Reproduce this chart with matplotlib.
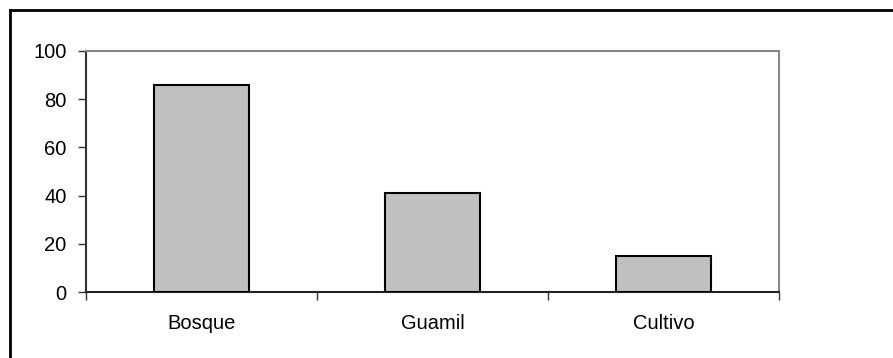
import matplotlib.pyplot as plt
from matplotlib.lines import Line2D

categories = ["Bosque", "Guamil", "Cultivo"]
values = [86, 41, 15]
yticks = [0, 20, 40, 60, 80, 100]

plt.rcParams['font.family'] = ['Liberation Sans', 'DejaVu Sans']

fig = plt.figure(figsize=(8.93, 3.58), dpi=100)
ax = fig.add_axes([86 / 893, 66 / 358, 693 / 893, 241 / 358])

x = list(range(len(categories)))
ax.bar(x, values, width=0.41, color="#c0c0c0", edgecolor="black", linewidth=1.5, zorder=3)

ax.set_xlim(-0.5, len(categories) - 0.5)
ax.set_ylim(0, 100)
ax.set_yticks(yticks)
ax.set_yticklabels([str(v) for v in yticks], fontsize=14.5)

# category labels in the middle, tick marks on the boundaries
ax.set_xticks(x)
ax.set_xticklabels(categories, fontsize=14.5)
ax.tick_params(axis="x", which="major", length=0, pad=16)
ax.set_xticks([i - 0.5 for i in range(len(categories) + 1)], minor=True)
ax.tick_params(axis="x", which="minor", length=6, width=1, color="#333333", direction="out")
ax.tick_params(axis="y", length=6, width=1, color="#333333", pad=8)

ax.spines["left"].set_color("#333333")
ax.spines["bottom"].set_color("#222222")
ax.spines["top"].set_color("#888888")
ax.spines["right"].set_color("#888888")
for s in ax.spines.values():
    s.set_linewidth(1.5)

# outer frame of the chart
fig.add_artist(Line2D([10 / 893, 10 / 893], [0, 1 - 10 / 358], transform=fig.transFigure, color="black", linewidth=2))
fig.add_artist(Line2D([10 / 893, 1], [1 - 10 / 358, 1 - 10 / 358], transform=fig.transFigure, color="black", linewidth=2))

fig.savefig("out.png", dpi=100)
